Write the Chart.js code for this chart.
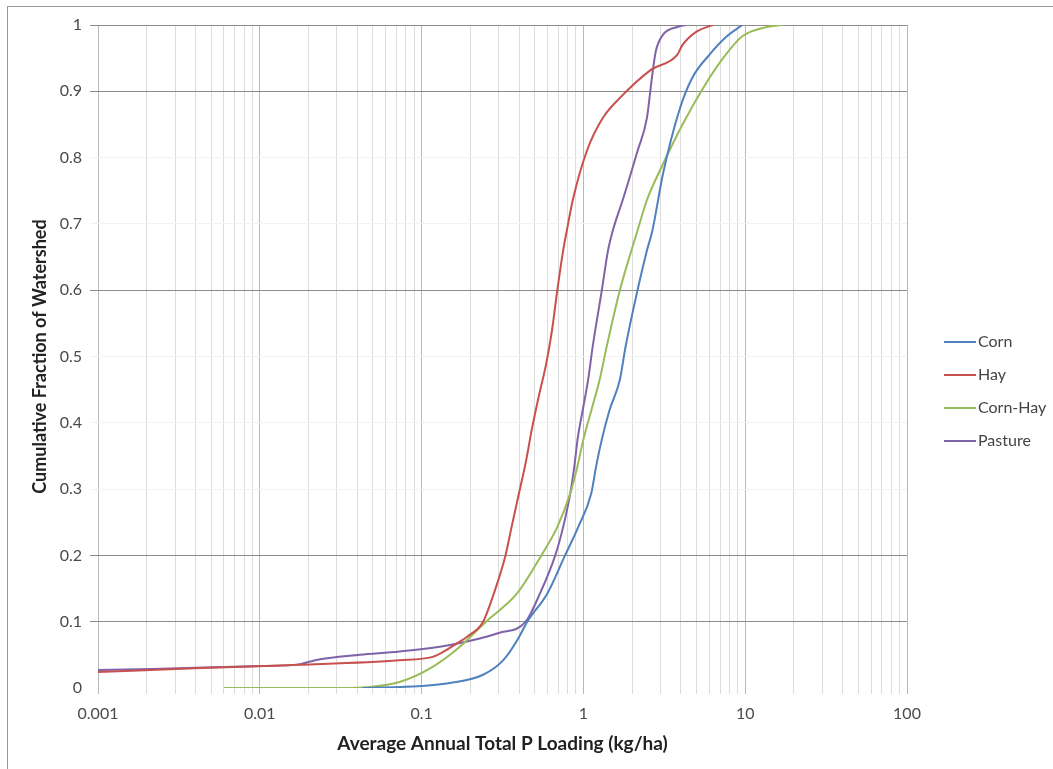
<!DOCTYPE html>
<html>
<head>
<meta charset="utf-8">
<script src="https://cdn.jsdelivr.net/npm/chart.js@4/dist/chart.umd.min.js"></script>
<style>
  html, body { margin: 0; padding: 0; background: #fff; }
</style>
</head>
<body>
<canvas id="chart" width="1053" height="769"></canvas>
<script>
// x = Average Annual Total P Loading (kg/ha), y = cumulative fraction
const cornX = [0.043, 0.1, 0.15, 0.24, 0.32, 0.39, 0.45, 0.6, 0.77, 0.93, 1.12, 1.2, 1.3, 1.45, 1.68, 1.82, 2.16, 2.47, 2.67, 3.1, 3.9, 4.7, 6.0, 7.7, 9.6];
const cornY = [0, 0.003, 0.0075, 0.02, 0.042, 0.072, 0.1, 0.143, 0.2, 0.243, 0.294, 0.335, 0.375, 0.419, 0.465, 0.514, 0.6, 0.66, 0.69, 0.775, 0.87, 0.92, 0.955, 0.983, 1.0];

const hayX = [0.001, 0.0043, 0.0178, 0.073, 0.117, 0.135, 0.167, 0.19, 0.24, 0.28, 0.33, 0.36, 0.40, 0.44, 0.48, 0.53, 0.59, 0.64, 0.69, 0.75, 0.79, 0.86, 1.05, 1.32, 1.68, 2.6, 3.8, 4.1, 5.0, 6.3];
const hayY = [0.024, 0.03, 0.035, 0.042, 0.047, 0.054, 0.068, 0.077, 0.1, 0.143, 0.2, 0.243, 0.294, 0.34, 0.39, 0.44, 0.49, 0.54, 0.6, 0.66, 0.69, 0.736, 0.81, 0.86, 0.89, 0.932, 0.955, 0.97, 0.99, 1.0];

const cornHayX = [0.006, 0.03, 0.05, 0.073, 0.117, 0.168, 0.25, 0.39, 0.55, 0.69, 0.83, 0.92, 1.0, 1.12, 1.26, 1.39, 1.68, 1.98, 2.16, 2.47, 3.1, 4.1, 5.5, 7.3, 9.6, 13.6, 17];
const cornHayY = [0, 0, 0.002, 0.009, 0.032, 0.06, 0.1, 0.143, 0.2, 0.243, 0.294, 0.335, 0.375, 0.419, 0.465, 0.514, 0.6, 0.66, 0.69, 0.736, 0.79, 0.85, 0.905, 0.95, 0.983, 0.997, 1.0];

const pastureX = [0.001, 0.01, 0.0178, 0.022, 0.0415, 0.073, 0.15, 0.30, 0.44, 0.54, 0.67, 0.75, 0.83, 0.88, 0.92, 0.99, 1.07, 1.14, 1.30, 1.42, 1.52, 1.75, 2.16, 2.47, 2.65, 2.8, 3.1, 3.8, 4.3];
const pastureY = [0.027, 0.033, 0.036, 0.042, 0.05, 0.055, 0.065, 0.083, 0.1, 0.143, 0.2, 0.243, 0.294, 0.335, 0.375, 0.419, 0.465, 0.514, 0.6, 0.66, 0.69, 0.736, 0.81, 0.86, 0.92, 0.96, 0.985, 0.997, 1.0];

const xDecades = [0.001, 0.01, 0.1, 1, 10, 100];
const darkYLines = [1, 2, 6, 9, 10];   // gridlines that show in the picture (tenths)

function pts(xs, ys) {
    return xs.map((x, i) => ({ x: x, y: ys[i] }));
}

// white page plus the thin frame round the chart
const frame = {
    id: 'frame',
    beforeDraw(chart) {
        const ctx = chart.ctx;
        ctx.save();
        ctx.fillStyle = '#fff';
        ctx.fillRect(0, 0, chart.width, chart.height);
        ctx.strokeStyle = '#9a9a9a';
        ctx.lineWidth = 1;
        ctx.strokeRect(7.5, 6.5, chart.width + 20, chart.height + 20);
        ctx.restore();
    }
};

// legend on the right, line samples like Excel
const sideLegend = {
    id: 'sideLegend',
    afterDraw(chart) {
        const ctx = chart.ctx;
        ctx.save();
        ctx.font = '16px Lato';
        ctx.textBaseline = 'middle';
        chart.data.datasets.forEach((ds, i) => {
            const y = 342 + i * 33;
            ctx.strokeStyle = ds.borderColor;
            ctx.lineWidth = 2;
            ctx.beginPath();
            ctx.moveTo(944, y);
            ctx.lineTo(976, y);
            ctx.stroke();
            ctx.fillStyle = '#444';
            ctx.fillText(ds.label, 978, y);
        });
        ctx.restore();
    }
};

const lineStyle = {
    borderWidth: 2,
    pointRadius: 0,
    fill: false,
    cubicInterpolationMode: 'monotone'
};

new Chart(document.getElementById('chart'), {
    type: 'line',
    data: {
        datasets: [
            { label: 'Corn', data: pts(cornX, cornY), borderColor: '#4f81bd', backgroundColor: '#4f81bd', ...lineStyle },
            { label: 'Hay', data: pts(hayX, hayY), borderColor: '#c8504d', backgroundColor: '#c8504d', ...lineStyle },
            { label: 'Corn-Hay', data: pts(cornHayX, cornHayY), borderColor: '#9bbb59', backgroundColor: '#9bbb59', ...lineStyle },
            { label: 'Pasture', data: pts(pastureX, pastureY), borderColor: '#7f63a8', backgroundColor: '#7f63a8', ...lineStyle }
        ]
    },
    options: {
        responsive: false,
        animation: false,
        devicePixelRatio: 1,
        layout: { padding: { top: 25, right: 146, bottom: 0, left: 0 } },
        plugins: {
            legend: { display: false },
            tooltip: { enabled: false }
        },
        scales: {
            x: {
                type: 'logarithmic',
                min: 0.001,
                max: 100,
                afterBuildTicks: (scale) => {
                    const t = [];
                    xDecades.forEach((d, i) => {
                        if (i === xDecades.length - 1) {
                            t.push({ value: d, major: true });
                            return;
                        }
                        for (let m = 1; m < 10; m++) {
                            t.push({ value: +(d * m).toPrecision(3), major: m === 1 });
                        }
                    });
                    scale.ticks = t;
                },
                afterFit: (scale) => { scale.height = 81; },
                border: { display: false },
                grid: {
                    color: (c) => xDecades.includes(c.tick && c.tick.value) ? '#b8b8b8' : '#dcdcdc',
                    tickLength: 6
                },
                ticks: {
                    autoSkip: false,
                    maxRotation: 0,
                    padding: 10,
                    color: '#4a4a4a',
                    font: { family: 'Lato', size: 16 },
                    callback: (v) => xDecades.includes(v) ? String(v) : ''
                },
                title: {
                    display: true,
                    text: 'Average Annual Total P Loading (kg/ha)',
                    color: '#222',
                    font: { family: 'Lato', size: 19, weight: 'bold' },
                    padding: { top: 0, bottom: 14 }
                }
            },
            y: {
                min: 0,
                max: 1,
                afterFit: (scale) => { scale.width = 98; },
                border: { display: false },
                grid: {
                    color: (c) => {
                        const k = Math.round(c.tick.value * 10);
                        if (k === 0) return 'rgba(0,0,0,0)';
                        return darkYLines.includes(k) ? '#8c8c8c' : '#f2f2f2';
                    },
                    tickLength: 8
                },
                ticks: {
                    stepSize: 0.1,
                    padding: 8,
                    color: '#4a4a4a',
                    font: { family: 'Lato', size: 16 },
                    callback: (v) => String(+v.toFixed(1))
                },
                title: {
                    display: true,
                    text: 'Cumulative Fraction of Watershed',
                    color: '#222',
                    font: { family: 'Lato', size: 18, weight: 'bold' },
                    padding: { top: 29, bottom: 0 }
                }
            }
        }
    },
    plugins: [frame, sideLegend]
});
</script>
</body>
</html>
